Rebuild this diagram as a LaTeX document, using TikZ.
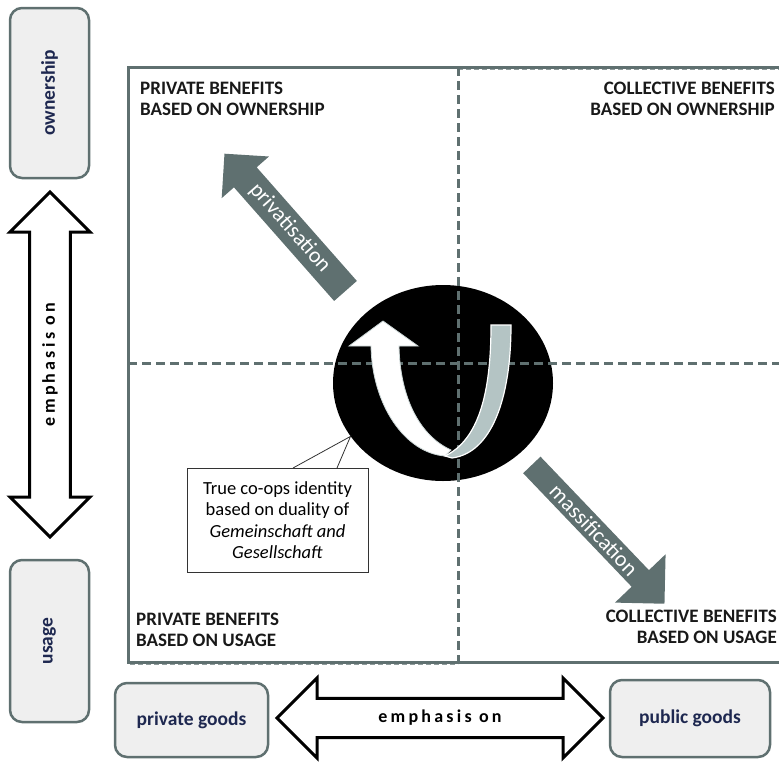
\documentclass[tikz,border=0pt]{standalone}
\usepackage{fontspec}
\setmainfont{Carlito}
\usetikzlibrary{shapes.arrows,shapes.geometric}
\definecolor{slate}{HTML}{5F7070}
\definecolor{boxfill}{HTML}{EFEFEF}
\definecolor{navy}{HTML}{1E2850}
\definecolor{ugray}{HTML}{B4C4C4}
\tikzset{
  sidebox/.style={draw=slate, line width=2.5pt, fill=boxfill, rounded corners=12pt,
    text=navy, font=\fontsize{19.5}{22}\selectfont\bfseries},
  emphbar/.style={double arrow, draw=black, line width=3pt, fill=white,
    double arrow head extend=12pt,
    font=\fontsize{18}{20}\selectfont\bfseries\addfontfeature{LetterSpace=18}},
  benefit/.style={inner sep=0pt, font=\fontsize{19}{21}\selectfont\bfseries, text=black!90},
  trend/.style={single arrow, fill=slate, text=white, inner sep=2pt,
    font=\fontsize{22}{24}\selectfont},
  quarterline/.style={line width=3pt, dash pattern=on 9pt off 5pt}
}
\begin{document}
\begin{tikzpicture}[x=1pt,y=-1pt]
  \useasboundingbox (0,0) rectangle (779,761);
  \clip (0,0) rectangle (779,761);
  % frame and quarters
  \draw[slate, line width=3pt] (800,67) -- (128,67) -- (128,662) -- (800,662);
  \draw[slate!70, line width=1.2pt, dash pattern=on 5pt off 3pt] (458,69.5) -- (800,69.5);
  \draw[slate!70, line width=1.2pt, dash pattern=on 5pt off 3pt] (130,664.5) -- (458,664.5);
  \node[ellipse, fill=black, minimum width=220, minimum height=196, inner sep=0pt] (core) at (443,383) {};
  \draw[slate, quarterline] (458,67) -- (458,662);
  \draw[slate, quarterline] (128,363) -- (800,363);
  % the U turn
  \draw[fill=white, draw=ugray!70, line width=0.8pt]
    (451,450) .. controls (420,436) and (400,398) .. (399,346)
    -- (418,346) -- (383,321) -- (349,346) -- (371,346)
    .. controls (372,405) and (405,453) .. (445,456) -- cycle;
  \draw[fill=ugray, draw=white, line width=1.2pt]
    (445,456) .. controls (478,440) and (491,395) .. (491,325)
    -- (511,325) .. controls (511,400) and (491,453) .. (452,458) -- cycle;
  % trends
  \node[trend, rotate=-48.6, shape border rotate=180, minimum height=183, minimum width=63,
    single arrow head extend=12.5] (priv) at (290,228) {privatisation};
  \node[trend, rotate=-46.3, minimum height=192, minimum width=70,
    single arrow head extend=19] (mass) at (594,530) {massification};
  % quarter labels
  \node[benefit, anchor=north west, align=left] (pbo) at (140,82) {PRIVATE BENEFITS\\BASED ON OWNERSHIP};
  \node[benefit, anchor=north east, align=right] (cbo) at (775,82) {COLLECTIVE BENEFITS\\BASED ON OWNERSHIP};
  \node[benefit, anchor=north west, align=left] (pbu) at (136,613) {PRIVATE BENEFITS\\BASED ON USAGE};
  \node[benefit, anchor=north east, align=right] (cbu) at (777,610) {COLLECTIVE BENEFITS\\BASED ON USAGE};
  % callout
  \node[draw=black!80, fill=white, line width=0.8pt, minimum width=181, minimum height=104,
    align=center, font=\fontsize{18.5}{21.5}\selectfont] (note) at (277.5,520)
    {True co-ops identity\\based on duality of\\\textit{Gemeinschaft and}\\\textit{Gesellschaft}};
  \coordinate (pa) at (293,468);
  \coordinate (pb) at (337,468);
  \fill[white] ([xshift=0.6pt,yshift=0.6pt]pa) -- (core.-150) -- ([xshift=-0.6pt,yshift=0.6pt]pb) -- cycle;
  \draw[black!80, line width=0.8pt] (pa) -- (core.-150) -- (pb);
  % side axes
  \node[sidebox, rotate=90, minimum width=170, minimum height=79] (owner) at (49.5,93) {ownership};
  \node[sidebox, rotate=90, minimum width=162, minimum height=79] (usage) at (49.5,641) {usage};
  \node[emphbar, rotate=90, minimum height=345, minimum width=80] (vaxis) at (50,364.5) {emphasis on};
  \node[sidebox, minimum width=153, minimum height=74] (privgoods) at (191.5,720) {private goods};
  \node[sidebox, minimum width=160, minimum height=77] (pubgoods) at (690,718.5) {public goods};
  \node[emphbar, minimum height=326, minimum width=80, double arrow head extend=13] (haxis) at (440,718) {emphasis on};
\end{tikzpicture}
\end{document}
